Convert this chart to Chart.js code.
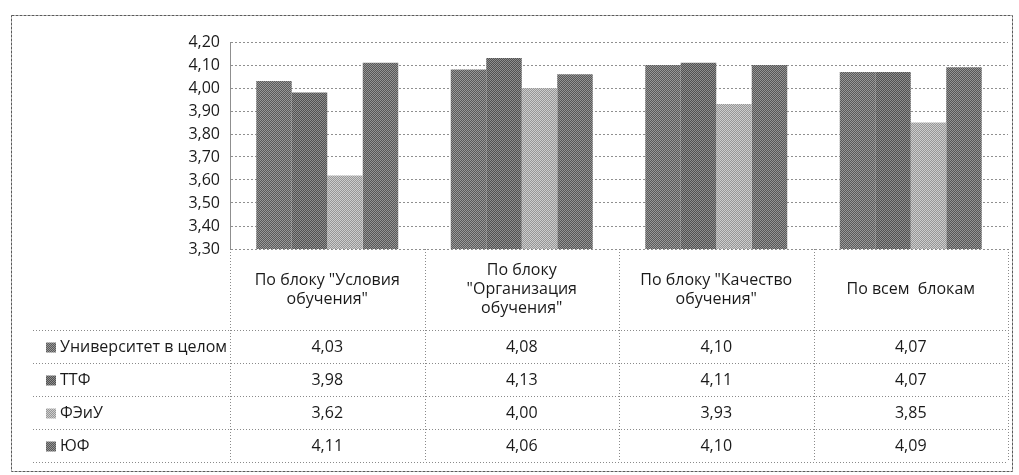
<!DOCTYPE html>
<html>
<head>
<meta charset="utf-8">
<script src="https://cdn.jsdelivr.net/npm/chart.js@4"></script>
<style>
  html, body { margin: 0; padding: 0; background: #fff; }
  canvas { display: block; }
</style>
</head>
<body>
<canvas id="chart" width="1019" height="475"></canvas>
<script>
// data (table values)
const categories = [
  ['По блоку "Условия', 'обучения"'],
  ['По блоку', '"Организация', 'обучения"'],
  ['По блоку "Качество', 'обучения"'],
  ['По всем  блокам']
];
const seriesNames = ['Университет в целом', 'ТТФ', 'ФЭиУ', 'ЮФ'];
const univ = [4.03, 4.08, 4.10, 4.07];
const ttf = [3.98, 4.13, 4.11, 4.07];
const feiu = [3.62, 4.00, 3.93, 3.85];
const yuf = [4.11, 4.06, 4.10, 4.09];
const yMin = 3.30;
const yMax = 4.20;
const yStep = 0.10;

const FONT = '"Open Sans", sans-serif';
const fmt = v => v.toFixed(2).replace('.', ',');

// small halftone-ish fill like the scan
function hatch(c1, c2) {
  const p = document.createElement('canvas');
  p.width = 2; p.height = 2;
  const g = p.getContext('2d');
  g.fillStyle = c1; g.fillRect(0, 0, 2, 2);
  g.fillStyle = c2; g.fillRect(0, 0, 1, 1); g.fillRect(1, 1, 1, 1);
  return g.createPattern(p, 'repeat');
}
const fills = [
  hatch('#5a5a5a', '#989898'),
  hatch('#515151', '#8e8e8e'),
  hatch('#979797', '#cdcdcd'),
  hatch('#575757', '#949494')
];

const ROW_H = 33;
const HEADER_BOTTOM = 330;
const PLOT_BOTTOM = 249;

const tablePlugin = {
  id: 'dataTable',
  afterDraw(chart) {
    const { ctx, chartArea, scales: { x } } = chart;
    const n = categories.length;
    const colW = (chartArea.right - chartArea.left) / n;
    const top = chartArea.bottom;
    const tableLeft = 33;
    const bottom = HEADER_BOTTOM + ROW_H * chart.data.datasets.length;

    ctx.save();
    ctx.strokeStyle = '#8a8a8a';
    ctx.lineWidth = 1;
    ctx.setLineDash([1, 2]);

    // vertical lines of the table
    ctx.beginPath();
    for (let i = 0; i <= n; i++) {
      const xx = Math.round(chartArea.left + i * colW) + 0.5;
      ctx.moveTo(xx, top);
      ctx.lineTo(xx, bottom);
    }
    // horizontal lines
    for (let r = 0; r <= chart.data.datasets.length; r++) {
      const yy = HEADER_BOTTOM + r * ROW_H + 0.5;
      ctx.moveTo(tableLeft, yy);
      ctx.lineTo(chartArea.right, yy);
    }
    ctx.stroke();

    // outer frame
    ctx.strokeStyle = '#5a5a5a';
    ctx.setLineDash([3, 1]);
    ctx.strokeRect(11.5, 15.5, 1001, 456);
    ctx.setLineDash([]);

    ctx.fillStyle = '#1a1a1a';
    ctx.textAlign = 'center';
    ctx.textBaseline = 'middle';
    ctx.font = '16px ' + FONT;

    // header row: category labels
    categories.forEach((lines, i) => {
      const cx = x.getPixelForValue(i);
      const cy = (top + HEADER_BOTTOM) / 2;
      const lh = 19;
      lines.forEach((ln, k) => {
        ctx.fillText(ln, cx, cy + (k - (lines.length - 1) / 2) * lh);
      });
    });

    // data rows
    chart.data.datasets.forEach((ds, r) => {
      const cy = HEADER_BOTTOM + r * ROW_H + ROW_H / 2 + 1;
      ctx.textAlign = 'center';
      ds.data.forEach((v, i) => {
        ctx.fillText(fmt(v), x.getPixelForValue(i), cy);
      });
      // legend key + series name
      ctx.fillStyle = ds.backgroundColor;
      ctx.fillRect(46, cy - 5, 10, 10);
      ctx.fillStyle = '#1a1a1a';
      ctx.textAlign = 'left';
      ctx.fillText(ds.label, 60, cy);
    });
    ctx.restore();
  }
};

new Chart(document.getElementById('chart'), {
  type: 'bar',
  data: {
    labels: categories,
    datasets: [
      { label: seriesNames[0], data: univ, backgroundColor: fills[0] },
      { label: seriesNames[1], data: ttf, backgroundColor: fills[1] },
      { label: seriesNames[2], data: feiu, backgroundColor: fills[2] },
      { label: seriesNames[3], data: yuf, backgroundColor: fills[3] }
    ]
  },
  options: {
    responsive: false,
    animation: false,
    datasets: {
      bar: { categoryPercentage: 0.73, barPercentage: 1.0, borderWidth: 0 }
    },
    layout: {
      padding: { top: 42, right: 11, bottom: 475 - HEADER_BOTTOM, left: 0 }
    },
    plugins: {
      legend: { display: false },
      tooltip: { enabled: false }
    },
    scales: {
      x: {
        grid: { display: false },
        border: { display: false },
        ticks: { display: false },
        afterFit: scale => { scale.height = HEADER_BOTTOM - PLOT_BOTTOM; }
      },
      y: {
        min: yMin,
        max: yMax,
        afterFit: scale => { scale.width = 230; },
        ticks: {
          stepSize: yStep,
          padding: 10,
          color: '#1a1a1a',
          font: { family: FONT, size: 16 },
          callback: v => fmt(v)
        },
        grid: {
          color: '#8f8f8f',
          drawTicks: false
        },
        border: { display: true, color: '#8f8f8f', dash: [2, 2] }
      }
    }
  },
  plugins: [tablePlugin]
});
</script>
</body>
</html>
